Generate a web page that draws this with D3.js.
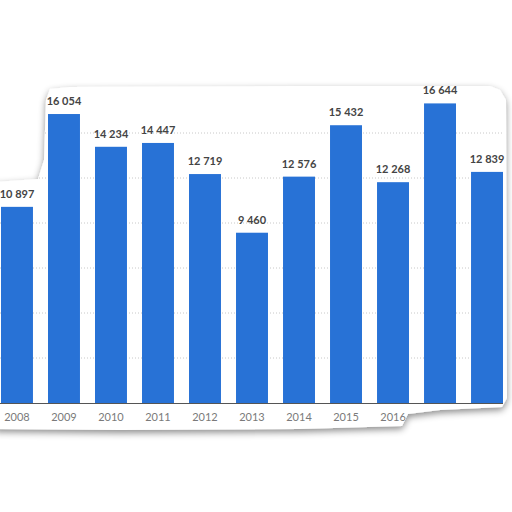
<!DOCTYPE html>
<html><head><meta charset="utf-8">
<script src="https://cdn.jsdelivr.net/npm/d3@7"></script>
<style>html,body{margin:0;padding:0;background:#fff;}svg{display:block;}</style>
</head><body>
<svg id="c" width="512" height="512"></svg>
<script>
const categories = ["2008","2009","2010","2011","2012","2013","2014","2015","2016","2017","2018"];
const values = [10897,16054,14234,14447,12719,9460,12576,15432,12268,16644,12839];
const visibleTicks = ["2008","2009","2010","2011","2012","2013","2014","2015","2016"];
const gridValues = [2500,5000,7500,10000,12500,15000];

const svg = d3.select("#c");
const defs = svg.append("defs");
const f = defs.append("filter").attr("id","sh").attr("x","-10%").attr("y","-10%").attr("width","120%").attr("height","120%");
f.append("feDropShadow").attr("dx",0).attr("dy",3).attr("stdDeviation",3.5).attr("flood-color","#000").attr("flood-opacity",0.45);

// torn paper shape
const paper = [[-5,182],[38,179],[44,160],[46,100],[50,89],[70,87],[300,86],[490,86],[500,90],[506,100],[507,398],[502,407],[440,410],[408,414],[402,426],[300,429],[120,430],[-5,429]];
const paperPath = d3.line()(paper)+"Z";
svg.append("path").attr("d", paperPath).attr("fill","#fff").attr("filter","url(#sh)");
defs.append("clipPath").attr("id","pc").append("path").attr("d", paperPath);

const x = d3.scaleBand().domain(categories).range([1,503]).paddingInner(0.32).paddingOuter(0);
const y = d3.scaleLinear().domain([0,17500]).range([403,88]);

const fmt = v => d3.format(",")(v).replace(/,/g," ");

const g = svg.append("g").attr("clip-path","url(#pc)");

g.append("g").selectAll("line").data(gridValues).join("line")
  .attr("x1",0).attr("x2",503).attr("y1",d=>y(d)).attr("y2",d=>y(d))
  .attr("stroke","#c8c8c8").attr("stroke-width",1).attr("stroke-dasharray","1,2");

g.append("g").selectAll("rect").data(values).join("rect")
  .attr("x",(d,i)=>x(categories[i])).attr("width",x.bandwidth())
  .attr("y",d=>y(d)).attr("height",d=>y(0)-y(d))
  .attr("fill","#2872d6");

g.append("g").selectAll("text").data(values).join("text")
  .attr("x",(d,i)=>x(categories[i])+x.bandwidth()/2).attr("y",d=>y(d)-9)
  .attr("text-anchor","middle").attr("font-family","Lato, 'Open Sans', sans-serif")
  .attr("font-weight","bold").attr("font-size","11px").attr("fill","#444")
  .text(d=>fmt(d));

g.append("line").attr("x1",0).attr("x2",503).attr("y1",y(0)+0.5).attr("y2",y(0)+0.5).attr("stroke","#555").attr("stroke-width",1);

const ax = g.append("g").attr("transform",`translate(0,${y(0)})`)
  .call(d3.axisBottom(x).tickValues(visibleTicks).tickSize(0).tickPadding(10));
ax.select(".domain").remove();
ax.selectAll("text").attr("font-family","Lato, 'Open Sans', sans-serif").attr("font-size","11px").attr("fill","#7a7a7a");
</script>
</body></html>
